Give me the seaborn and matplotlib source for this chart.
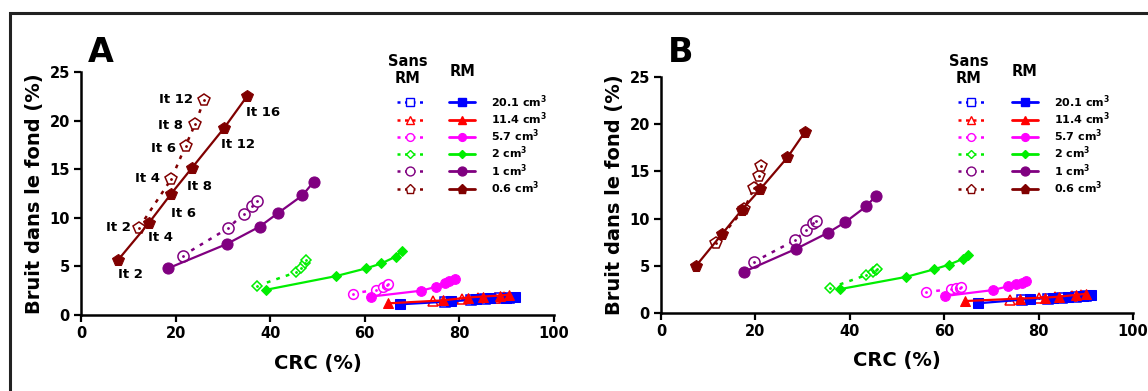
import numpy as np
import pandas as pd
import seaborn as sns
import matplotlib.pyplot as plt
from matplotlib.lines import Line2D
from matplotlib.patches import Rectangle

# ---------------- data ----------------
sizes = ["20.1", "11.4", "5.7", "2", "1", "0.6"]
iter_rm = ["It 2", "It 4", "It 6", "It 8", "It 12", "It 16"]
iter_sans = ["It 2", "It 4", "It 6", "It 8", "It 12"]

# Panel A - RM (solid)
A_rm_x = {
    "20.1": [67.5, 78.3, 83.6, 86.5, 89.8, 91.7],
    "11.4": [64.9, 76.5, 81.8, 85.0, 88.5, 90.5],
    "5.7": [61.4, 71.9, 75.1, 76.9, 77.9, 79.0],
    "2": [39.2, 53.9, 60.3, 63.5, 66.5, 67.9],
    "1": [18.4, 30.8, 37.8, 41.7, 46.8, 49.2],
    "0.6": [7.9, 14.4, 19.1, 23.4, 30.2, 35.1],
}
A_rm_y = {
    "20.1": [1.1, 1.4, 1.6, 1.7, 1.8, 1.9],
    "11.4": [1.2, 1.5, 1.8, 1.9, 2.0, 2.1],
    "5.7": [1.9, 2.5, 2.9, 3.3, 3.5, 3.7],
    "2": [2.6, 4.0, 4.8, 5.3, 6.0, 6.6],
    "1": [4.8, 7.3, 9.1, 10.5, 12.3, 13.7],
    "0.6": [5.7, 9.5, 12.5, 15.1, 19.2, 22.5],
}
# Panel A - Sans RM (dotted)
A_sans_x = {
    "20.1": [77.0, 82.5, 85.5, 88.5, 90.5],
    "11.4": [74.5, 80.5, 84.0, 87.5, 89.5],
    "5.7": [57.4, 62.4, 63.8, 64.6, 65.0],
    "2": [37.3, 45.5, 46.6, 47.3, 47.5],
    "1": [21.5, 31.0, 34.4, 36.2, 37.2],
    "0.6": [12.3, 19.1, 22.1, 24.1, 26.0],
}
A_sans_y = {
    "20.1": [1.3, 1.5, 1.6, 1.7, 1.8],
    "11.4": [1.4, 1.6, 1.7, 1.8, 1.9],
    "5.7": [2.2, 2.6, 2.9, 3.1, 3.2],
    "2": [3.0, 4.4, 4.8, 5.3, 5.7],
    "1": [6.1, 8.9, 10.4, 11.2, 11.7],
    "0.6": [9.0, 14.0, 17.4, 19.6, 22.1],
}
# Panel B - RM (solid)
B_rm_x = {
    "20.1": [67.2, 78.1, 83.0, 86.2, 89.4, 91.2],
    "11.4": [64.5, 76.0, 81.3, 84.4, 88.0, 90.0],
    "5.7": [60.1, 70.3, 73.5, 75.3, 76.4, 77.4],
    "2": [37.9, 51.9, 57.8, 61.0, 63.9, 65.0],
    "1": [17.6, 28.7, 35.4, 39.0, 43.5, 45.5],
    "0.6": [7.4, 13.0, 17.1, 21.0, 26.8, 30.5],
}
B_rm_y = {
    "20.1": [1.0, 1.45, 1.6, 1.7, 1.8, 1.9],
    "11.4": [1.24, 1.5, 1.6, 1.7, 1.9, 2.0],
    "5.7": [1.77, 2.4, 2.8, 3.1, 3.2, 3.35],
    "2": [2.5, 3.8, 4.6, 5.1, 5.7, 6.1],
    "1": [4.35, 6.8, 8.5, 9.6, 11.3, 12.4],
    "0.6": [4.96, 8.4, 10.9, 13.1, 16.5, 19.2],
}
# Panel B - Sans RM (dotted)
B_sans_x = {
    "20.1": [76.5, 82.0, 85.0, 88.0, 90.0],
    "11.4": [74.0, 80.0, 83.5, 87.0, 89.0],
    "5.7": [56.2, 61.5, 62.6, 63.3, 63.6],
    "2": [35.9, 43.5, 44.9, 45.5, 45.7],
    "1": [19.7, 28.4, 30.8, 32.2, 32.8],
    "0.6": [11.6, 17.6, 19.7, 20.7, 21.2],
}
B_sans_y = {
    "20.1": [1.3, 1.5, 1.6, 1.7, 1.8],
    "11.4": [1.4, 1.6, 1.7, 1.8, 1.9],
    "5.7": [2.2, 2.5, 2.65, 2.65, 2.7],
    "2": [2.65, 4.0, 4.35, 4.5, 4.6],
    "1": [5.4, 7.7, 8.8, 9.5, 9.7],
    "0.6": [7.4, 11.0, 13.2, 14.5, 15.6],
}

x_ticks = [0, 20, 40, 60, 80, 100]
y_ticks = [0, 5, 10, 15, 20, 25]

# ---------------- style ----------------
colors = {"20.1": "#0000ff", "11.4": "#ff0000", "5.7": "#ff00ff",
          "2": "#00ee00", "1": "#800080", "0.6": "#800000"}
markers = {"20.1": "s", "11.4": "^", "5.7": "o", "2": "D", "1": "o", "0.6": "p"}
msizes = {"20.1": 6.5, "11.4": 6.5, "5.7": 7, "2": 5, "1": 8, "0.6": 8.5}

sns.set_theme(style="ticks")
plt.rcParams["font.family"] = ["DejaVu Sans"]
plt.rcParams["font.weight"] = "bold"
plt.rcParams["mathtext.default"] = "bf"
for k in ["text.color", "axes.labelcolor", "xtick.color", "ytick.color", "axes.edgecolor"]:
    plt.rcParams[k] = "black"

W, H = 1148, 391
fig = plt.figure(figsize=(W / 100, H / 100), dpi=100)
fig.patch.set_facecolor("white")

axA = fig.add_axes([81 / W, 1 - 315 / H, 473 / W, 243 / H])
axB = fig.add_axes([661 / W, 1 - 312.7 / H, 472 / W, 235.4 / H])

DOT = (0, (1.5, 2.5))


def draw(ax, rx, ry, sx, sy):
    for s in sizes:
        c = colors[s]
        df_s = pd.DataFrame({"x": sx[s], "y": sy[s]})
        sns.lineplot(data=df_s, x="x", y="y", ax=ax, sort=False, estimator=None,
                     color=c, linestyle=DOT, linewidth=1.8,
                     marker=markers[s], markersize=msizes[s],
                     markerfacecolor="white", markeredgecolor=c,
                     markeredgewidth=1.1, zorder=2)
        ax.plot(sx[s], sy[s], linestyle="none", marker=".", markersize=2,
                color=c, zorder=2.5)
        df_r = pd.DataFrame({"x": rx[s], "y": ry[s]})
        sns.lineplot(data=df_r, x="x", y="y", ax=ax, sort=False, estimator=None,
                     color=c, linestyle="-", linewidth=1.6,
                     marker=markers[s], markersize=msizes[s],
                     markerfacecolor=c, markeredgecolor=c, zorder=3)
    ax.set_xlim(0, 100)
    ax.set_ylim(0, 25)
    ax.set_xticks(x_ticks)
    ax.set_yticks(y_ticks)
    ax.set_xticklabels([str(t) for t in x_ticks], fontsize=10.5, fontweight="bold")
    ax.set_yticklabels([str(t) for t in y_ticks], fontsize=10.5, fontweight="bold")
    ax.set_xlabel("CRC (%)", fontsize=14, fontweight="bold", labelpad=9)
    ax.set_ylabel("Bruit dans le fond (%)", fontsize=14, fontweight="bold", labelpad=4)
    sns.despine(ax=ax)
    for sp in ["left", "bottom"]:
        ax.spines[sp].set_linewidth(1.8)
        ax.spines[sp].set_color("black")
    ax.tick_params(axis="both", direction="out", length=5, width=1.6,
                   colors="black", pad=3)
    ax.set_facecolor("white")


draw(axA, A_rm_x, A_rm_y, A_sans_x, A_sans_y)
draw(axB, B_rm_x, B_rm_y, B_sans_x, B_sans_y)

# iteration labels (panel A, 0.6 cm3)
rm_off = [(0, 15), (-1, 15), (0, 20), (-5, 18), (-3, 16), (-1, 16)]
for lab, x, y, (dx, dy) in zip(iter_rm, A_rm_x["0.6"], A_rm_y["0.6"], rm_off):
    axA.annotate(lab, (x, y), xytext=(dx, -dy), textcoords="offset pixels",
                 ha="left", va="center", fontsize=9.5, fontweight="bold")
sans_off = [(-8, 0), (-11, 0), (-10, 3), (-12, 1), (-11, -1)]
for lab, x, y, (dx, dy) in zip(iter_sans, A_sans_x["0.6"], A_sans_y["0.6"], sans_off):
    axA.annotate(lab, (x, y), xytext=(dx, -dy), textcoords="offset pixels",
                 ha="right", va="center", fontsize=9.5, fontweight="bold")


# legends: one legend per column, identical label texts so rows line up
def legend(ax, x_sans, x_rm, top, hdr_sans_x, hdr_rm_x):
    labels = [s + " cm$^3$" for s in sizes]
    kw = dict(frameon=False, loc="upper left", bbox_transform=fig.transFigure,
              borderpad=0, borderaxespad=0, handlelength=2.3, handletextpad=1.5,
              labelspacing=0.06, prop={"size": 8, "weight": "bold"})
    h_sans = [Line2D([], [], color=colors[s], linestyle=(0, (1.2, 1.8)), linewidth=1.8,
                     marker=markers[s], markersize=msizes[s] * 0.8,
                     markerfacecolor="white", markeredgecolor=colors[s])
              for s in sizes]
    h_rm = [Line2D([], [], color=colors[s], linestyle="-", linewidth=2.0,
                   marker=markers[s], markersize=msizes[s] * 0.8,
                   markerfacecolor=colors[s], markeredgecolor=colors[s])
            for s in sizes]
    leg1 = ax.legend(h_sans, labels, bbox_to_anchor=(x_sans / W, 1 - top / H), **kw)
    for t in leg1.get_texts():
        t.set_color("none")
    ax.add_artist(leg1)
    ax.legend(h_rm, labels, bbox_to_anchor=(x_rm / W, 1 - top / H), **kw)
    fig.text(hdr_sans_x / W, 1 - 70 / H, "Sans\nRM", ha="center", va="center",
             fontsize=10.5, fontweight="bold", linespacing=1.1)
    fig.text(hdr_rm_x / W, 1 - 72 / H, "RM", ha="center", va="center",
             fontsize=10.5, fontweight="bold")


legend(axA, 397, 449, 93, 408, 463)
legend(axB, 958, 1012, 93, 969, 1025)

fig.text(88 / W, 1 - 62 / H, "A", fontsize=24, fontweight="bold", ha="left", va="baseline")
fig.text(668 / W, 1 - 62 / H, "B", fontsize=24, fontweight="bold", ha="left", va="baseline")

# outer frame
fig.patches.append(Rectangle((10 / W, -0.2), 2.0, 1.2 - 13 / H, transform=fig.transFigure,
                             fill=False, edgecolor="#222222", linewidth=2.2, zorder=0))

fig.savefig("out.png", dpi=100, facecolor="white")
